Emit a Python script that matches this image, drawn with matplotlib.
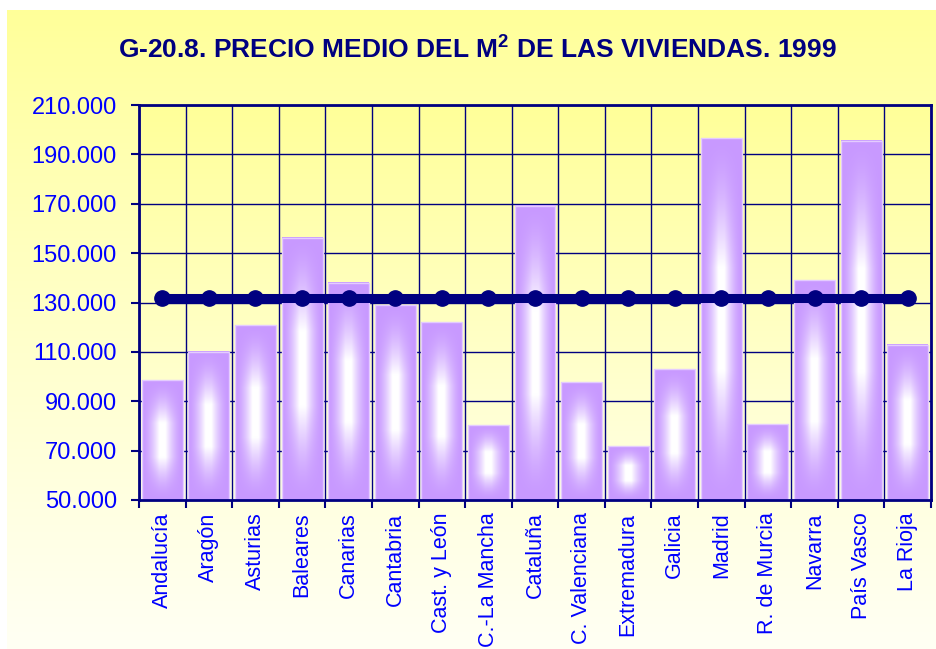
import numpy as np
import matplotlib
matplotlib.use("Agg")
import matplotlib.pyplot as plt
from matplotlib.colors import to_rgb

plt.rcParams['font.family'] = ['Liberation Sans', 'DejaVu Sans']
plt.rcParams['mathtext.fontset'] = 'custom'
plt.rcParams['mathtext.rm'] = 'Liberation Sans'
plt.rcParams['mathtext.bf'] = 'Liberation Sans:bold'

# data (euros per m2, 1999)
regiones = ["Andalucía", "Aragón", "Asturias", "Baleares", "Canarias", "Cantabria",
            "Cast. y León", "C.-La Mancha", "Cataluña", "C. Valenciana", "Extremadura",
            "Galicia", "Madrid", "R. de Murcia", "Navarra", "País Vasco", "La Rioja"]
precio = [98600, 110000, 120800, 156200, 138000, 128900, 122100, 80300, 169100,
          97700, 71700, 102900, 196500, 80700, 139100, 195500, 112900]
media_nacional = 131700
y_ticks = [50000, 70000, 90000, 110000, 130000, 150000, 170000, 190000, 210000]

NAVY = '#000080'
BLUE = '#0000FF'
PURPLE = np.array(to_rgb('#C899FF'))
WHITE = np.array([1.0, 1.0, 1.0])


def vertical_gradient(top, bottom, n=256, gamma=1.0):
    t = np.linspace(0, 1, n)[:, None] ** gamma
    top, bottom = np.array(to_rgb(top)), np.array(to_rgb(bottom))
    return (top * (1 - t) + bottom * t)[:, None, :]


def bar_gradient(ny=200, nx=60):
    # white glow in the middle, lavender at the edges
    u = np.linspace(-1, 1, nx)[None, :]
    v = np.linspace(-1, 1, ny)[:, None]
    a = np.clip((1 - np.abs(u)) / 0.85, 0, 1)
    b = np.clip((1 - np.abs(v)) * 1.4, 0, 1)
    f = np.clip(a * b, 0, 1) ** 1.6
    return PURPLE * (1 - f[..., None]) + WHITE * f[..., None]


fig = plt.figure(figsize=(9.37, 6.49), dpi=100)

# page background
bg = fig.add_axes([0, 0, 1, 1], zorder=-10)
bg.set_xlim(0, 937)
bg.set_ylim(649, 0)
bg.axis('off')
bg.imshow(vertical_gradient('#FFFF99', '#FFFFF4', gamma=0.9), extent=(7, 937, 649, 10),
          aspect='auto', interpolation='bilinear')

ax = fig.add_axes([139 / 937, 149 / 649, 792 / 937, 395 / 649])
ax.imshow(vertical_gradient('#FFFF99', '#FFFFE4'), extent=(0, 1, 0, 1), transform=ax.transAxes,
          aspect='auto', interpolation='bilinear', zorder=0)

x = np.arange(1, len(regiones) + 1)
width = 0.88
grad = bar_gradient()
for xi, v in zip(x, precio):
    ax.imshow(grad, extent=(xi - width / 2, xi + width / 2, y_ticks[0], v),
              aspect='auto', interpolation='bilinear', zorder=2)
ax.bar(x, precio, width=width, facecolor='none', edgecolor='#E4CCFF', lw=1, zorder=3)

ax.plot(x, [media_nacional] * len(x), color=NAVY, lw=6.5, marker='o', ms=11,
        solid_capstyle='butt', zorder=4)

ax.set_xlim(0.5, len(regiones) + 0.5)
ax.set_ylim(y_ticks[0], y_ticks[-1])

ax.set_xticks(x)
ax.set_xticklabels(regiones, rotation=90, color=BLUE, fontsize=15.5)
ax.set_xticks(np.arange(0.5, len(regiones) + 1), minor=True)
ax.tick_params(axis='x', which='major', length=0, pad=9)
ax.tick_params(axis='x', which='minor', length=6, width=1.5, color=NAVY, direction='out')

ax.set_yticks(y_ticks)
ax.set_yticklabels([f"{v:,.0f}".replace(",", ".") for v in y_ticks], color=BLUE, fontsize=17)
ax.tick_params(axis='y', length=6, width=1.5, color=NAVY, direction='out', pad=10)

ax.set_axisbelow(True)
ax.grid(axis='y', which='major', color=NAVY, lw=1)
ax.grid(axis='x', which='minor', color=NAVY, lw=1)
ax.grid(axis='x', which='major', visible=False)
for side in ax.spines.values():
    side.set_color(NAVY)
    side.set_linewidth(2)
    side.set_zorder(5)

fig.text(477 / 937, 1 - 49 / 649,
         "G-20.8. PRECIO MEDIO DEL M$^{\\mathbf{2}}$ DE LAS VIVIENDAS. 1999",
         ha='center', va='center', fontsize=19, fontweight='bold', color=NAVY)

fig.savefig("out.png", dpi=100)
